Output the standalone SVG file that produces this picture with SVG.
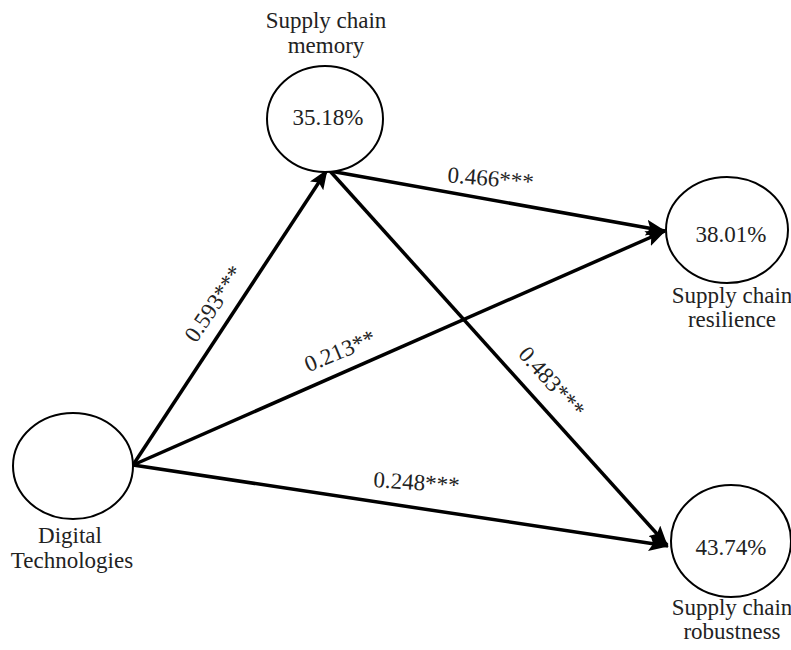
<svg xmlns="http://www.w3.org/2000/svg" width="791" height="650" viewBox="0 0 791 650">
<defs>
<marker id="arr" markerUnits="userSpaceOnUse" markerWidth="20" markerHeight="16" viewBox="0 0 20 16" refX="19" refY="8" orient="auto">
<path d="M0,0 L20,8 L0,16 L4,8 Z" fill="#000"/>
</marker>
<style>
.n{fill:#fff;stroke:#000;stroke-width:2}
.t{font-family:'Liberation Serif','DejaVu Serif',serif;font-size:23px;fill:#222;text-anchor:middle}
.c{stroke:#000;stroke-width:3.5;fill:none;marker-end:url(#arr)}
</style>
</defs>
<rect width="791" height="650" fill="#fff"/>
<g id="connectors">
<line class="c" x1="133" y1="465" x2="327" y2="170"/>
<line class="c" x1="330" y1="171" x2="665" y2="231"/>
<line class="c" x1="133" y1="465" x2="665" y2="231"/>
<line class="c" x1="133" y1="465" x2="668" y2="546"/>
<line class="c" x1="330" y1="171" x2="667" y2="545"/>
<text class="t" transform="translate(490,186) rotate(5)">0.466***</text>
<text class="t" transform="translate(416,490) rotate(4)">0.248***</text>
<text class="t" transform="translate(343,358) rotate(-23)">0.213**</text>
<text class="t" transform="translate(220,308) rotate(-56)">0.593***</text>
<text class="t" transform="translate(546,387) rotate(48)">0.483***</text>
</g>
<g id="memory">
<ellipse class="n" cx="325" cy="119" rx="58" ry="53"/>
<text class="t" x="326" y="28">Supply chain</text>
<text class="t" x="326" y="53">memory</text>
<text class="t" x="328" y="125">35.18%</text>
</g>
<g id="resilience">
<ellipse class="n" cx="727" cy="230" rx="61" ry="53"/>
<text class="t" x="731" y="242">38.01%</text>
<text class="t" x="732" y="303">Supply chain</text>
<text class="t" x="732" y="327">resilience</text>
</g>
<g id="digital">
<ellipse class="n" cx="73" cy="466" rx="60" ry="53"/>
<text class="t" x="70" y="543">Digital</text>
<text class="t" x="72" y="568">Technologies</text>
</g>
<g id="robustness">
<ellipse class="n" cx="731" cy="541" rx="60" ry="56"/>
<text class="t" x="731" y="555">43.74%</text>
<text class="t" x="732" y="615">Supply chain</text>
<text class="t" x="732" y="639">robustness</text>
</g>
</svg>
